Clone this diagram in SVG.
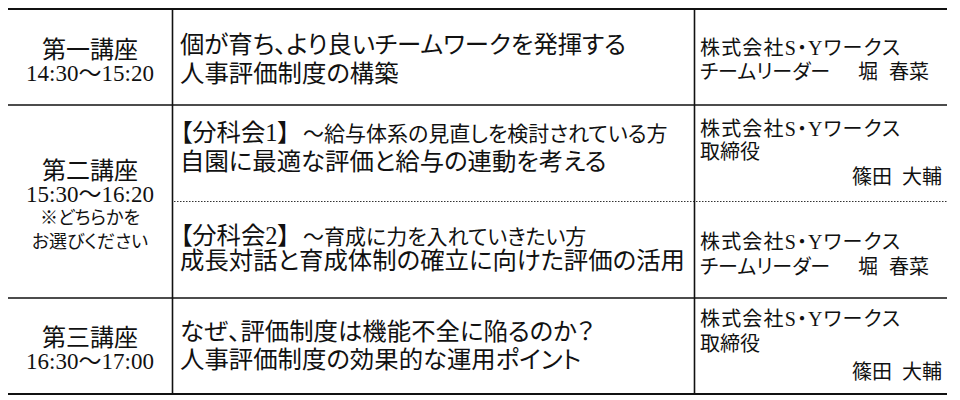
<svg xmlns="http://www.w3.org/2000/svg" width="960" height="400" viewBox="0 0 960 400">
<style>
text{font-family:"Liberation Serif","Noto Sans CJK JP",serif;fill:#111;font-feature-settings:"palt";}
.t{font-size:24px;}
.tm{font-size:23px;}
.s{font-size:18px;}
.m{font-size:24.4px;}
.sm{font-size:21px;}
.c{font-size:20px;}
.ctr{text-anchor:middle;}
.end{text-anchor:end;}
.thick{stroke:#111;stroke-width:2.2;fill:none;}
.thin{stroke:#111;stroke-width:1.6;fill:none;}
.dot{stroke:#333;stroke-width:1.2;stroke-dasharray:1.5 1.5;fill:none;}
</style>
<rect width="960" height="400" fill="#fff"/>
<g id="grid">
<line class="thick" x1="8" y1="9" x2="947" y2="9"/>
<line class="thin" x1="8" y1="105" x2="947" y2="105"/>
<line class="dot" x1="174" y1="201.5" x2="947" y2="201.5"/>
<line class="thin" x1="8" y1="298" x2="947" y2="298"/>
<line class="thick" x1="8" y1="394" x2="947" y2="394"/>
<line class="thin" x1="172.5" y1="9" x2="172.5" y2="394"/>
<line class="thin" x1="694.5" y1="9" x2="694.5" y2="394"/>
</g>
<g id="row1">
<g id="r1-session">
<text class="t ctr" x="90" y="58">第一講座</text>
<text class="tm ctr" x="90" y="81">14:30～15:20</text>
</g>
<g id="r1-title">
<text class="m" x="180" y="53">個が育ち、より良いチームワークを発揮する</text>
<text class="m" x="180" y="82">人事評価制度の構築</text>
</g>
<g id="r1-speaker">
<text class="c" x="700" y="55" textLength="200" lengthAdjust="spacing">株式会社S・Yワークス</text>
<text class="c" x="700" y="79">チームリーダー</text>
<text class="c" x="858" y="79" word-spacing="6">堀 春菜</text>
</g>
</g>
<g id="row2">
<g id="r2-session">
<text class="t ctr" x="90" y="179">第二講座</text>
<text class="tm ctr" x="90" y="202">15:30～16:20</text>
<text class="s ctr" x="90" y="224">※どちらかを</text>
<text class="s ctr" x="90" y="248">お選びください</text>
</g>
<g id="r2a-title">
<text class="m" x="180" y="141">【分科会1】<tspan class="sm" x="303">～給与体系の見直しを検討されている方</tspan></text>
<text class="m" x="180" y="170">自園に最適な評価と給与の連動を考える</text>
</g>
<g id="r2a-speaker">
<text class="c" x="700" y="136" textLength="200" lengthAdjust="spacing">株式会社S・Yワークス</text>
<text class="c" x="700" y="159">取締役</text>
<text class="c end" x="942" y="184" word-spacing="5">篠田 大輔</text>
</g>
<g id="r2b-title">
<text class="m" x="180" y="244">【分科会2】<tspan class="sm" x="303">～育成に力を入れていきたい方</tspan></text>
<text class="m" x="180" y="269">成長対話と育成体制の確立に向けた評価の活用</text>
</g>
<g id="r2b-speaker">
<text class="c" x="700" y="249" textLength="200" lengthAdjust="spacing">株式会社S・Yワークス</text>
<text class="c" x="700" y="274">チームリーダー</text>
<text class="c" x="858" y="274" word-spacing="6">堀 春菜</text>
</g>
</g>
<g id="row3">
<g id="r3-session">
<text class="t ctr" x="90" y="346">第三講座</text>
<text class="tm ctr" x="90" y="369">16:30～17:00</text>
</g>
<g id="r3-title">
<text class="m" x="180" y="340">なぜ、評価制度は機能不全に陥るのか？</text>
<text class="m" x="180" y="368">人事評価制度の効果的な運用ポイント</text>
</g>
<g id="r3-speaker">
<text class="c" x="700" y="326" textLength="200" lengthAdjust="spacing">株式会社S・Yワークス</text>
<text class="c" x="700" y="351">取締役</text>
<text class="c end" x="942" y="379" word-spacing="5">篠田 大輔</text>
</g>
</g>
</svg>
